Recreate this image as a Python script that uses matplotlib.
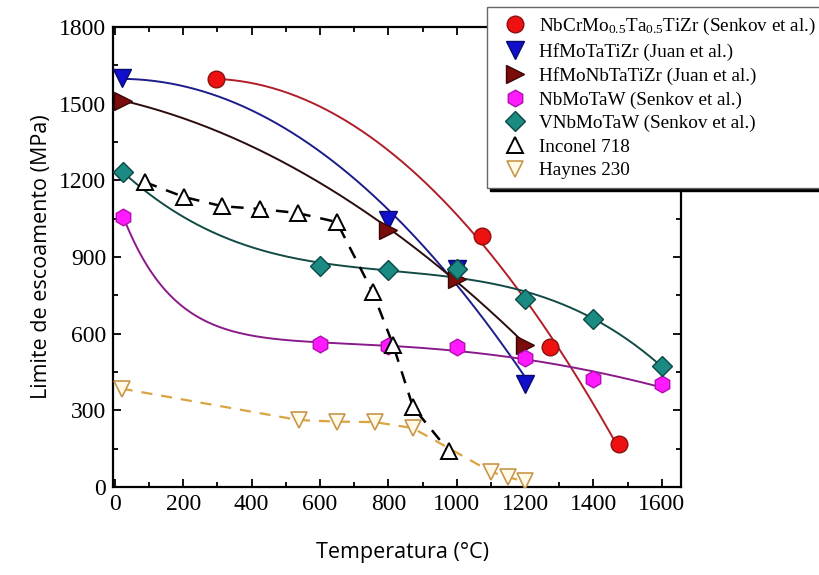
import numpy as np
import matplotlib.pyplot as plt
from matplotlib.ticker import MultipleLocator

plt.rcParams['font.family'] = ['Liberation Serif', 'DejaVu Serif']
plt.rcParams['mathtext.default'] = 'regular'

# ---------------- data: temperature (C) vs yield strength (MPa) ----------------
nbcr_T = [295, 1075, 1272, 1475]
nbcr_S = [1595, 983, 546, 170]

hfmota_T = [20, 800, 1000, 1200]
hfmota_S = [1600, 1045, 855, 404]

hfmonb_T = [25, 800, 1000, 1200]
hfmonb_S = [1512, 1007, 814, 556]

nbmotaw_T = [25, 600, 800, 1000, 1200, 1400, 1600]
nbmotaw_S = [1056, 561, 552, 548, 506, 421, 405]

vnbmotaw_T = [25, 600, 800, 1000, 1200, 1400, 1600]
vnbmotaw_S = [1232, 866, 848, 852, 737, 659, 475]

inconel_T = [88, 202, 313, 424, 535, 649, 754, 814, 872, 977]
inconel_S = [1193, 1135, 1099, 1088, 1072, 1037, 763, 556, 313, 141]

haynes_T = [20, 538, 649, 760, 871, 1100, 1150, 1200]
haynes_S = [385, 262, 256, 254, 231, 60, 38, 22]

labels = [
    "NbCrMo$_{0.5}$Ta$_{0.5}$TiZr (Senkov et al.)",
    "HfMoTaTiZr (Juan et al.)",
    "HfMoNbTaTiZr (Juan et al.)",
    "NbMoTaW (Senkov et al.)",
    "VNbMoTaW (Senkov et al.)",
    "Inconel 718",
    "Haynes 230",
]


def poly_curve(T, S, deg):
    T = np.asarray(T, float)
    coef = np.polyfit(T, S, deg)
    tt = np.linspace(T.min(), T.max(), 200)
    return tt, np.polyval(coef, tt)


def exp_quad_curve(T, S, tau=160.0):
    # least-squares fit of c + d*T + e*T^2 + a*exp(-T/tau)
    T = np.asarray(T, float)
    A = np.column_stack([np.ones_like(T), T, T**2, np.exp(-T / tau)])
    p = np.linalg.lstsq(A, np.asarray(S, float), rcond=None)[0]
    tt = np.linspace(T.min(), T.max(), 200)
    B = np.column_stack([np.ones_like(tt), tt, tt**2, np.exp(-tt / tau)])
    return tt, B @ p


fig = plt.figure(figsize=(8.2, 5.75), dpi=100)
ax = fig.add_axes([0.138, 0.153, 0.692, 0.800])

MS = 12

# fitted trend lines
ax.plot(*poly_curve(nbcr_T, nbcr_S, 2), color="#b01e28", lw=1.4, zorder=3)
ax.plot(*poly_curve(hfmota_T, hfmota_S, 2), color="#1c1c8a", lw=1.4, zorder=3)
ax.plot(*poly_curve(hfmonb_T, hfmonb_S, 2), color="#2a0c0c", lw=1.4, zorder=3)
ax.plot(*exp_quad_curve(nbmotaw_T, nbmotaw_S), color="#8a1a8a", lw=1.4, zorder=3)
ax.plot(*poly_curve(vnbmotaw_T, vnbmotaw_S, 3), color="#124a46", lw=1.4, zorder=3)
ax.plot(inconel_T, inconel_S, color="black", lw=1.8, ls=(0, (5, 4)), zorder=3)
ax.plot(haynes_T, haynes_S, color="#d9a441", lw=1.6, ls=(0, (5, 4)), zorder=3)

# measured points
ax.plot(nbcr_T, nbcr_S, "o", ms=MS, mfc="#ee1111", mec="#8a1010", ls="none", zorder=5, label=labels[0])
ax.plot(hfmota_T, hfmota_S, "v", ms=MS + 1, mfc="#1010cc", mec="#0a0a70", ls="none", zorder=5, label=labels[1])
ax.plot(hfmonb_T, hfmonb_S, ">", ms=MS + 1, mfc="#7a0c0c", mec="#3a0505", ls="none", zorder=5, label=labels[2])
ax.plot(nbmotaw_T, nbmotaw_S, "h", ms=MS, mfc="#ff1aff", mec="#b010b0", ls="none", zorder=5, label=labels[3])
ax.plot(vnbmotaw_T, vnbmotaw_S, "D", ms=MS - 2, mfc="#1a8a82", mec="#0c4a46", ls="none", zorder=5, label=labels[4])
ax.plot(inconel_T, inconel_S, "^", ms=MS, mfc="white", mec="black", mew=1.4, ls="none", zorder=5, label=labels[5])
ax.plot(haynes_T, haynes_S, "v", ms=MS, mfc="#fffbe8", mec="#c8964a", mew=1.2, ls="none", zorder=5, label=labels[6])

# axes looks
ax.set_xlim(-5, 1655)
ax.set_ylim(0, 1800)
ax.xaxis.set_major_locator(MultipleLocator(200))
ax.xaxis.set_minor_locator(MultipleLocator(100))
ax.yaxis.set_major_locator(MultipleLocator(300))
ax.yaxis.set_minor_locator(MultipleLocator(150))
ax.tick_params(which="both", direction="in", top=True, right=True, width=1.3, labelsize=17)
ax.tick_params(which="major", length=6, pad=5)
ax.tick_params(which="minor", length=3.5)
for sp in ax.spines.values():
    sp.set_linewidth(1.6)

ax.set_xlabel("Temperatura (°C)", family="Open Sans", fontsize=15.5)
ax.set_ylabel("Limite de escoamento (MPa)", family="Open Sans", fontsize=15.5)
ax.xaxis.set_label_coords(0.51, -0.12)
ax.yaxis.set_label_coords(-0.108, 0.5)

leg = fig.legend(loc="upper left", bbox_to_anchor=(487 / 820, 1 - 7 / 575),
                 fontsize=13.8, frameon=True, fancybox=False,
                 shadow={"color": "black", "alpha": 1.0},
                 handletextpad=0.25, labelspacing=0.32, borderpad=0.45,
                 handlelength=2.0, borderaxespad=0)
leg.get_frame().set_edgecolor("#666666")
leg.get_frame().set_linewidth(1.0)

fig.savefig("out.png", dpi=100)
